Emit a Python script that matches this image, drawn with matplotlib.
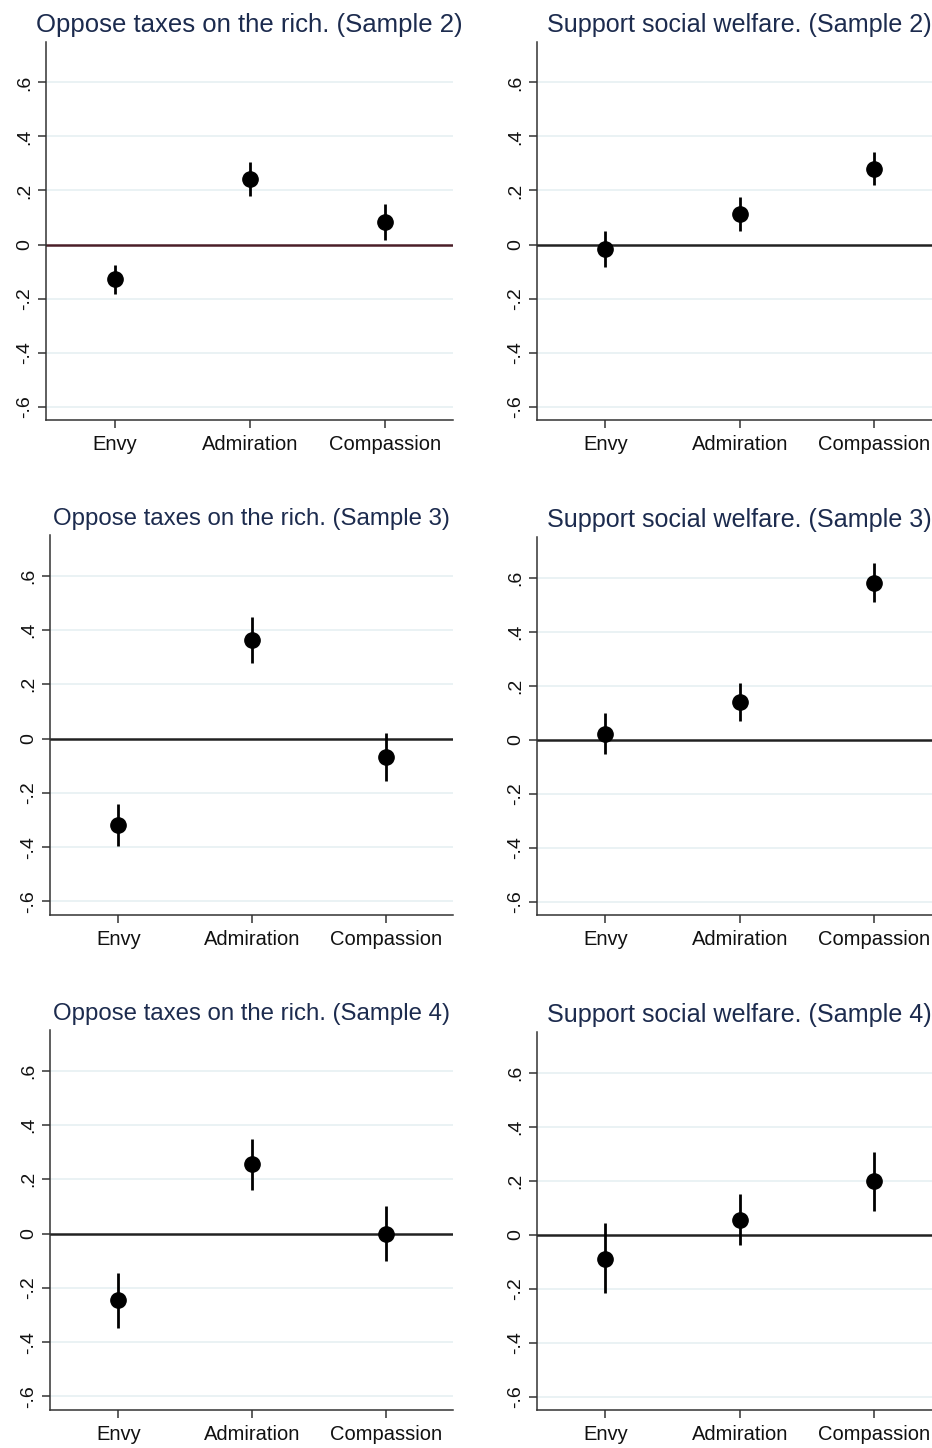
import matplotlib
matplotlib.use("Agg")
import matplotlib.pyplot as plt

plt.rcParams['font.family'] = ['Liberation Sans', 'DejaVu Sans']

categories = ["Envy", "Admiration", "Compassion"]

titles = [
    "Oppose taxes on the rich. (Sample 2)", "Support social welfare. (Sample 2)",
    "Oppose taxes on the rich. (Sample 3)", "Support social welfare. (Sample 3)",
    "Oppose taxes on the rich. (Sample 4)", "Support social welfare. (Sample 4)",
]

# point estimates
oppose_s2 = [-0.129, 0.244, 0.084]
support_s2 = [-0.017, 0.113, 0.280]
oppose_s3 = [-0.319, 0.363, -0.068]
support_s3 = [0.022, 0.139, 0.579]
oppose_s4 = [-0.246, 0.256, 0.000]
support_s4 = [-0.089, 0.055, 0.198]

# confidence interval bounds
oppose_s2_lo = [-0.183, 0.178, 0.018]
oppose_s2_hi = [-0.076, 0.307, 0.149]
support_s2_lo = [-0.085, 0.050, 0.221]
support_s2_hi = [0.050, 0.176, 0.342]
oppose_s3_lo = [-0.394, 0.277, -0.157]
oppose_s3_hi = [-0.242, 0.448, 0.022]
support_s3_lo = [-0.055, 0.069, 0.510]
support_s3_hi = [0.100, 0.209, 0.652]
oppose_s4_lo = [-0.348, 0.161, -0.100]
oppose_s4_hi = [-0.144, 0.350, 0.101]
support_s4_lo = [-0.218, -0.039, 0.087]
support_s4_hi = [0.041, 0.149, 0.307]

yticks = [-0.6, -0.4, -0.2, 0, 0.2, 0.4, 0.6]
yticklabels = ["-.6", "-.4", "-.2", "0", ".2", ".4", ".6"]

panels = [
    (oppose_s2, oppose_s2_lo, oppose_s2_hi),
    (support_s2, support_s2_lo, support_s2_hi),
    (oppose_s3, oppose_s3_lo, oppose_s3_hi),
    (support_s3, support_s3_lo, support_s3_hi),
    (oppose_s4, oppose_s4_lo, oppose_s4_hi),
    (support_s4, support_s4_lo, support_s4_hi),
]

W, H = 932, 1448
fig = plt.figure(figsize=(W / 100, H / 100), dpi=100)
fig.patch.set_facecolor("white")

# axes boxes in pixels: (left, top, right, bottom)
boxes = [
    (46, 42, 453, 420), (537, 42, 941, 420),
    (50, 535, 453, 915), (537, 537, 941, 915),
    (50, 1030, 453, 1410), (537, 1032, 941, 1410),
]
title_sizes = [18.5, 18.1, 17.3, 18.1, 17.3, 18.1]
zero_colors = ["#4a1e28", "#222222", "#222222", "#222222", "#222222", "#222222"]

for i, (box, (est, lo, hi)) in enumerate(zip(boxes, panels)):
    l, t, r, b = box
    ax = fig.add_axes([l / W, 1 - b / H, (r - l) / W, (b - t) / H])
    x = list(range(1, len(categories) + 1))
    for yv in yticks:
        if yv != 0:
            ax.axhline(yv, color="#e8f1f3", lw=1.3, zorder=0)
    ax.axhline(0, color=zero_colors[i], lw=1.8, zorder=1)
    yerr = [[e - lo_ for e, lo_ in zip(est, lo)], [hi_ - e for e, hi_ in zip(est, hi)]]
    ax.errorbar(x, est, yerr=yerr, fmt="o", color="black", ms=11, elinewidth=2.0,
                capsize=0, zorder=3)
    ax.set_xlim(0.49, 3.5)
    ax.set_ylim(-0.65, 0.75)
    ax.set_yticks(yticks)
    ax.set_yticklabels(yticklabels, rotation=90, va="center", fontsize=14)
    ax.set_xticks(x)
    ax.set_xticklabels(categories, fontsize=14.5)
    ax.tick_params(axis="both", direction="out", length=5.5, width=1.1, color="#333333",
                   labelcolor="#111111")
    ax.tick_params(axis="x", pad=5)
    ax.tick_params(axis="y", pad=4)
    for s in ["top", "right"]:
        ax.spines[s].set_visible(False)
    for s in ["left", "bottom"]:
        ax.spines[s].set_color("#333333")
        ax.spines[s].set_linewidth(1.1)
    ax.set_title(titles[i], fontsize=title_sizes[i], color="#1c2b4e", pad=7)

fig.savefig("out.png", dpi=100)
